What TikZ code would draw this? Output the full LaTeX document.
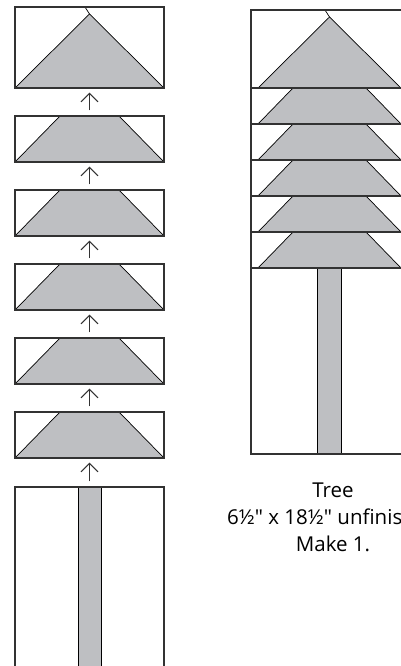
\documentclass[tikz,border=0pt]{standalone}
\usepackage{fontspec}
\setmainfont{Open Sans}[Ligatures=TeXOff]
\usetikzlibrary{arrows.meta}
\definecolor{treegray}{RGB}{190,191,194}
\definecolor{edge}{RGB}{50,50,50}
\tikzset{
  blk/.style={draw=edge, line width=1.2pt, rectangle, inner sep=0pt, minimum width=149pt},
  piece/.style={fill=treegray, draw=black, line width=0.7pt},
  seam/.style={draw=edge, line width=1.2pt},
  arr/.style={draw=edge, line width=1pt, -{Straight Barb[length=8.5pt,width=17pt,line width=1pt]}, shorten <=5pt, shorten >=4pt},
  caption/.style={font=\fontsize{20.5pt}{27pt}\selectfont, align=center, text=black, inner sep=0pt}
}
\begin{document}
\begin{tikzpicture}[x=1pt,y=-1pt]
\useasboundingbox (0,0) rectangle (401,666);
\clip (0,0) rectangle (401,666);
\fill[white] (0,0) rectangle (401,666);
% ---------- left column ----------
% top triangle block
\filldraw[piece] (15,88) -- (89.5,14) -- (164,88) -- cycle;
\draw[black, line width=0.7pt] (89.5,14) -- (85,7);
\node[blk, minimum height=81pt] (b1) at (89.5,47.5) {};
% trapezoid blocks
\foreach \t in {116,190,264,338,412} {
  \filldraw[piece] (15,\t+46) -- (60,\t) -- (119,\t) -- (164,\t+46) -- cycle;
}
\node[blk, minimum height=46pt] (b2) at (89.5,139) {};
\node[blk, minimum height=46pt] (b3) at (89.5,213) {};
\node[blk, minimum height=46pt] (b4) at (89.5,287) {};
\node[blk, minimum height=46pt] (b5) at (89.5,361) {};
\node[blk, minimum height=46pt] (b6) at (89.5,435) {};
% trunk block
\filldraw[piece] (78,487) rectangle (101,680);
\node[blk, minimum height=193pt] (b7) at (89.5,583.5) {};
% arrows
\draw[arr] (b2.north) -- (b1.south);
\draw[arr] (b3.north) -- (b2.south);
\draw[arr] (b4.north) -- (b3.south);
\draw[arr] (b5.north) -- (b4.south);
\draw[arr] (b6.north) -- (b5.south);
\draw[arr] (b7.north) -- (b6.south);
% ---------- right: finished tree ----------
\filldraw[piece] (258,88) -- (329.5,17) -- (401,88) -- cycle;
\draw[black, line width=0.7pt] (329.5,17) -- (325,10);
\foreach \t in {88,124,160,196,232} {
  \filldraw[piece] (258,\t+36) -- (293,\t) -- (366,\t) -- (401,\t+36) -- cycle;
}
\filldraw[piece] (317,268) rectangle (341,454);
\foreach \t in {88,124,160,196,232,268} {
  \draw[seam] (251,\t) -- (410,\t);
}
\draw[seam] (410,10) -- (251,10) -- (251,454) -- (410,454);
% caption
\node[caption, anchor=base] (cap) at (333,551) {Tree\\6½" x 18½" unfinished\\Make 1.};
\end{tikzpicture}
\end{document}
